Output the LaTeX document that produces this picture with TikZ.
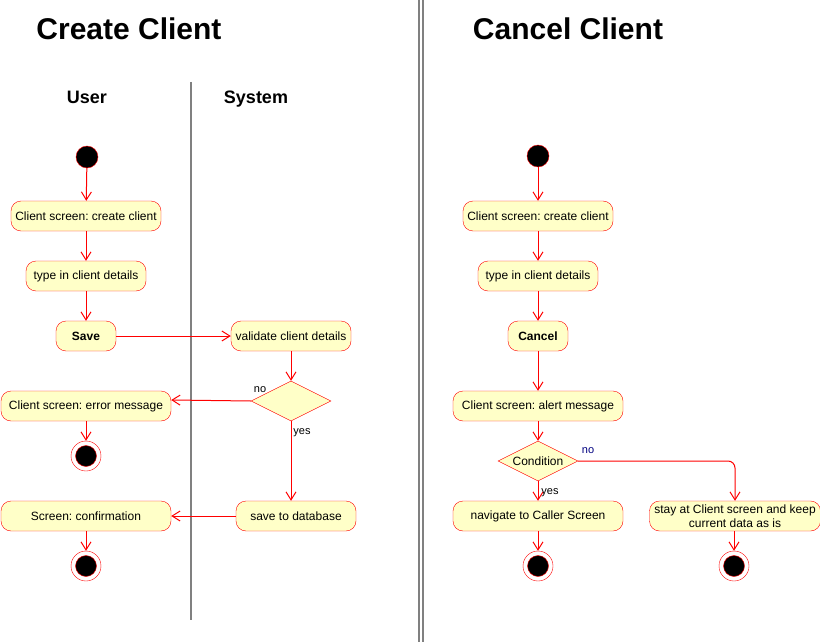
\documentclass[tikz,border=0pt]{standalone}
\usepackage{fontspec}
\setmainfont{Liberation Sans}
\usetikzlibrary{arrows.meta,positioning,shapes.geometric}
\definecolor{actfill}{RGB}{255,255,200}
\definecolor{lanegray}{RGB}{128,128,128}
\definecolor{lblnavy}{RGB}{0,0,128}
\frenchspacing

\begin{document}
\begin{tikzpicture}[
      x=1pt, y=-1pt,
      act/.style={draw=red,fill=actfill,rounded corners=10pt,minimum height=30pt,
        inner sep=3pt,align=center,font=\fontsize{12}{14}\selectfont},
      dec/.style={diamond,draw=red,fill=actfill,minimum width=80pt,minimum height=40pt,
        inner sep=0pt,shape aspect=2,font=\fontsize{12}{14}\selectfont},
      start/.style={circle,draw=red,fill=black,minimum size=22pt,inner sep=0pt},
      stop/.style={circle,draw=red,fill=white,minimum size=30pt,inner sep=0pt,
        path picture={\filldraw[fill=black,draw=red,thin] (path picture bounding box.center) circle (10.5pt);}},
      arr/.style={draw=red,line width=1pt,-{Straight Barb[length=8pt,width=10pt]}},
      lane/.style={draw=lanegray,line width=2pt},
      ttl/.style={anchor=base,font=\bfseries\fontsize{30}{36}\selectfont},
      hdr/.style={anchor=base,font=\bfseries\fontsize{18}{22}\selectfont},
      lbl/.style={font=\fontsize{11}{13}\selectfont},
    ]
    \useasboundingbox (0,0) rectangle (820,642);

    % separators
    \draw[lane] (191,82) -- (191,620);
    \draw[lane] (419,0) -- (419,642);
    \draw[lane] (423,0) -- (423,642);

    \node[ttl] at (129,40) {Create Client};
    \node[ttl] at (568,40) {Cancel Client};
    \node[hdr] at (87,103) {User};
    \node[hdr] at (256,103) {System};

    % create client
    \node[start] (startC) at (87,157) {};
    \node[act,minimum width=150pt] (createC) at (86,216) {Client screen: create client};
    \node[act,minimum width=120pt] (typeC) at (86,276) {type in client details};
    \node[act,minimum width=60pt,font=\bfseries\fontsize{12}{14}\selectfont] (save) at (86,336) {Save};
    \node[act,minimum width=120pt] (validate) at (291,336) {validate client details};
    \node[dec] (check) at (291,401) {};
    \node[act,minimum width=170pt] (errMsg) at (86,406) {Client screen: error message};
    \node[stop] (endErr) at (86,456) {};
    \node[act,minimum width=120pt] (saveDb) at (296,516) {save to database};
    \node[act,minimum width=170pt] (confirm) at (86,516) {Screen: confirmation};
    \node[stop] (endConf) at (86,566) {};

    \draw[arr] (startC) -- (createC);
    \draw[arr] (createC) -- (typeC);
    \draw[arr] (typeC) -- (save);
    \draw[arr] (save) -- (validate);
    \draw[arr] (validate) -- (check);
    \draw[arr] (check.west) -- ([yshift=6pt]errMsg.east);
    \draw[arr] (errMsg) -- (endErr);
    \draw[arr] (check.south) -- (check.south |- saveDb.north);
    \draw[arr] (saveDb) -- (confirm);
    \draw[arr] (confirm) -- (endConf);
    \node[lbl] at (260,390) {no};
    \node[lbl] at (302,433) {yes};

    % cancel client
    \node[start] (startX) at (538,156) {};
    \node[act,minimum width=150pt] (createX) at (538,216) {Client screen: create client};
    \node[act,minimum width=120pt] (typeX) at (538,276) {type in client details};
    \node[act,minimum width=60pt,font=\bfseries\fontsize{12}{14}\selectfont] (cancel) at (538,336) {Cancel};
    \node[act,minimum width=170pt] (alert) at (538,406) {Client screen: alert message};
    \node[dec] (cond) at (538,461) {Condition};
    \node[act,minimum width=170pt] (navigate) at (538,516) {navigate to Caller Screen};
    \node[act,minimum width=171pt,inner sep=1pt] (stay) at (735,516) {stay at Client screen and keep\\current data as is};
    \node[stop] (endNav) at (538,566) {};
    \node[stop] (endStay) at (734,566) {};

    \draw[arr] (startX) -- (createX);
    \draw[arr] (createX) -- (typeX);
    \draw[arr] (typeX) -- (cancel);
    \draw[arr] (cancel) -- (alert);
    \draw[arr] (alert) -- (cond);
    \draw[arr] (cond) -- (navigate);
    \draw[arr,rounded corners=7pt] (cond.east) -| (stay.north);
    \draw[arr] (navigate) -- (endNav);
    \draw[arr] (stay.south -| endStay) -- (endStay);
    \node[lbl,text=lblnavy] at (588,451) {no};
    \node[lbl] at (550,493) {yes};
  \end{tikzpicture}
\end{document}
